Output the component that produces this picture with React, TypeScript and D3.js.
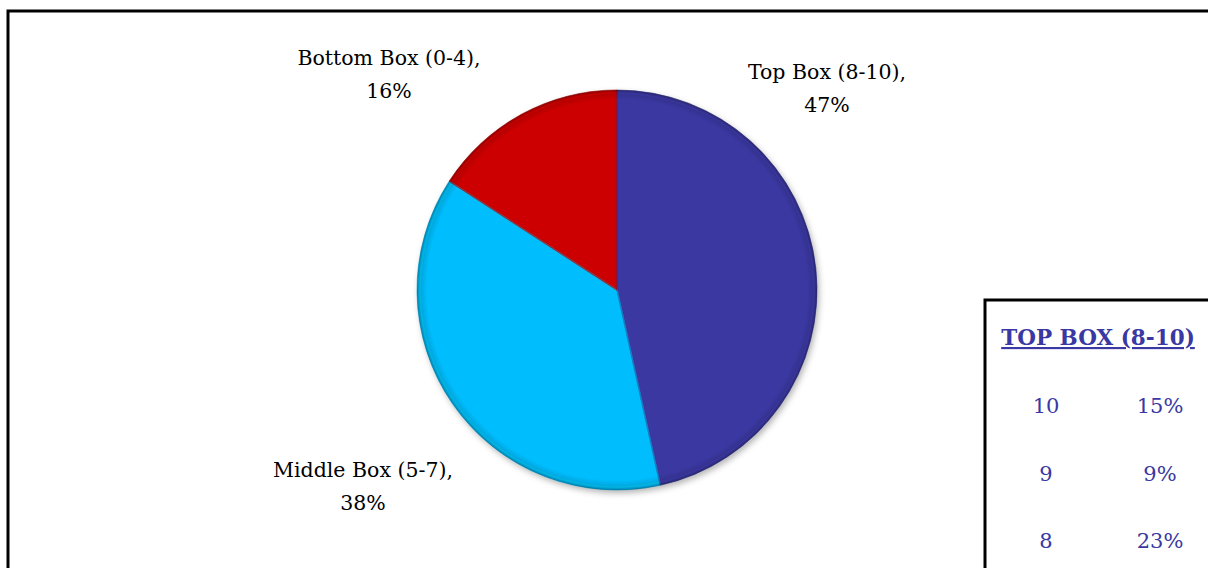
import React from "react";
import * as d3 from "d3";

const categories = ["Top Box (8-10)", "Middle Box (5-7)", "Bottom Box (0-4)"];
const values = [47, 38, 16];
const sliceColors = ["#3A38A2", "#00BDFD", "#CC0000"];

const tableTitle = "TOP BOX (8-10)";
const tableScores = ["10", "9", "8"];
const tablePcts = ["15%", "9%", "23%"];

// label anchor positions (text layout), index-aligned with categories
const labelPos = [
  { x: 827, y: 79 },
  { x: 363, y: 477 },
  { x: 389, y: 65 },
];

const W = 1208;
const H = 568;
const cx = 617;
const cy = 290;
const R = 200;
const FONT = "'DejaVu Serif', 'Liberation Serif', serif";

export default function App() {
  const pie = d3.pie<number>().sort(null).value((d) => d);
  const arcs = pie(values);
  const arc = d3.arc<d3.PieArcDatum<number>>().innerRadius(0).outerRadius(R);
  const innerArc = d3.arc<d3.PieArcDatum<number>>().innerRadius(0).outerRadius(R - 3);
  const tableColor = "#3A38A2";

  return (
    <svg
      width={W}
      height={H}
      style={{ position: "absolute", left: 0, top: 0, background: "#fff" }}
    >
      <defs>
        <radialGradient id="rim" cx="50%" cy="50%" r="50%">
          <stop offset="0.95" stopColor="#000" stopOpacity="0" />
          <stop offset="0.99" stopColor="#000" stopOpacity="0.15" />
          <stop offset="1" stopColor="#000" stopOpacity="0.3" />
        </radialGradient>
        <filter id="shadow" x="-20%" y="-20%" width="140%" height="140%">
          <feDropShadow dx="2" dy="3" stdDeviation="3" floodColor="#000" floodOpacity="0.3" />
        </filter>
      </defs>

      {/* outer chart border */}
      <rect x={8} y={11} width={W} height={H} fill="none" stroke="#000" strokeWidth={3} />

      <g transform={`translate(${cx},${cy})`}>
        <g filter="url(#shadow)">
          {arcs.map((a, i) => (
            <path key={i} d={arc(a) || ""} fill={sliceColors[i]} />
          ))}
        </g>
        {arcs.map((a, i) => (
          <path
            key={"h" + i}
            d={innerArc(a) || ""}
            fill="none"
            stroke={d3.color(sliceColors[i])!.brighter(0.5).toString()}
            strokeWidth={1.5}
            strokeOpacity={0.5}
          />
        ))}
        {arcs.map((a, i) => (
          <path
            key={"s" + i}
            d={arc(a) || ""}
            fill="none"
            stroke={d3.color(sliceColors[i])!.darker(0.6).toString()}
            strokeWidth={1}
            strokeOpacity={0.6}
          />
        ))}
        <circle r={R} fill="url(#rim)" />
      </g>

      {categories.map((c, i) => (
        <text
          key={c}
          x={labelPos[i].x}
          y={labelPos[i].y}
          textAnchor="middle"
          fontFamily={FONT}
          fontSize={20.5}
          fill="#000"
        >
          <tspan x={labelPos[i].x}>{c + ","}</tspan>
          <tspan x={labelPos[i].x} dy={33}>
            {values[i] + "%"}
          </tspan>
        </text>
      ))}

      {/* data table box */}
      <rect x={985} y={300} width={400} height={400} fill="#fff" stroke="#000" strokeWidth={3} />
      <text
        x={1098}
        y={345}
        textAnchor="middle"
        fontFamily={FONT}
        fontSize={21.5}
        fontWeight="bold"
        fill={tableColor}
        textDecoration="underline"
      >
        {tableTitle}
      </text>
      {tableScores.map((s, i) => (
        <g key={s}>
          <text
            x={1046}
            y={413 + i * 67.5}
            textAnchor="middle"
            fontFamily={FONT}
            fontSize={21}
            fill={tableColor}
          >
            {s}
          </text>
          <text
            x={1160}
            y={413 + i * 67.5}
            textAnchor="middle"
            fontFamily={FONT}
            fontSize={21}
            fill={tableColor}
          >
            {tablePcts[i]}
          </text>
        </g>
      ))}
    </svg>
  );
}
